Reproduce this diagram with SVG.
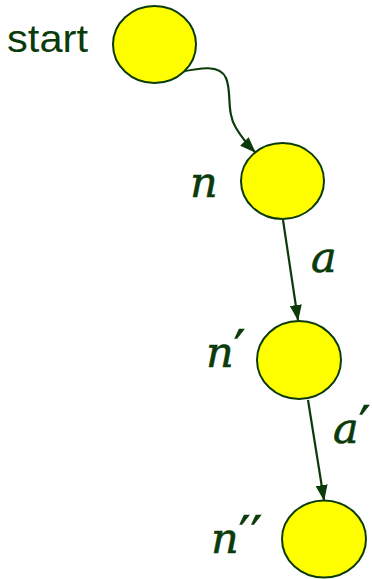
<svg xmlns="http://www.w3.org/2000/svg" width="372" height="579" viewBox="0 0 372 579">
<style>
.node{fill:#ffff00;stroke:#0b3a0b;stroke-width:2}
.edge{fill:none;stroke:#0b3a0b;stroke-width:2.2}
.lbl{fill:#0b3a0b;font-family:"Liberation Sans",Arial,sans-serif}
.math{fill:#0b3a0b;stroke:#0b3a0b;stroke-width:0.6;font-family:"DejaVu Serif",serif;font-style:italic;font-size:43px}
.pr{font-family:"DejaVu Sans",sans-serif;font-style:normal;font-size:52px}
</style>
<defs>
<marker id="ah" viewBox="0 0 16 12" refX="15" refY="6" markerWidth="16" markerHeight="12" markerUnits="userSpaceOnUse" orient="auto">
<path d="M0,0 L16,6 L0,12 Z" fill="#0b3a0b"/>
</marker>
</defs>
<rect width="372" height="579" fill="#fff"/>
<g id="connectors">
<path class="edge" d="M180,72 C200,68 220,64 226,78 C232,92 226,112 236,128 C242,138 248,145 255,152" marker-end="url(#ah)"/>
<line class="edge" x1="283" y1="220" x2="298" y2="320" marker-end="url(#ah)"/>
<line class="edge" x1="308" y1="400" x2="324" y2="500" marker-end="url(#ah)"/>
</g>
<g id="start">
<ellipse class="node" cx="154.5" cy="44.5" rx="41.5" ry="38.5"/>
<text class="lbl" x="7" y="52" font-size="38" textLength="81" lengthAdjust="spacingAndGlyphs">start</text>
</g>
<g id="n">
<ellipse class="node" cx="282.5" cy="181" rx="41.5" ry="38"/>
<text class="math" x="190" y="197">n</text>
</g>
<g id="n1">
<ellipse class="node" cx="299" cy="360" rx="42" ry="39"/>
<text class="math" x="206" y="367">n<tspan class="pr">′</tspan></text>
</g>
<g id="n2">
<ellipse class="node" cx="324" cy="539" rx="42" ry="38.5"/>
<text class="math" x="211" y="553">n<tspan class="pr">′′</tspan></text>
</g>
<g id="labels">
<text class="math" x="311" y="272">a</text>
<text class="math" x="333" y="443">a<tspan class="pr">′</tspan></text>
</g>
</svg>
